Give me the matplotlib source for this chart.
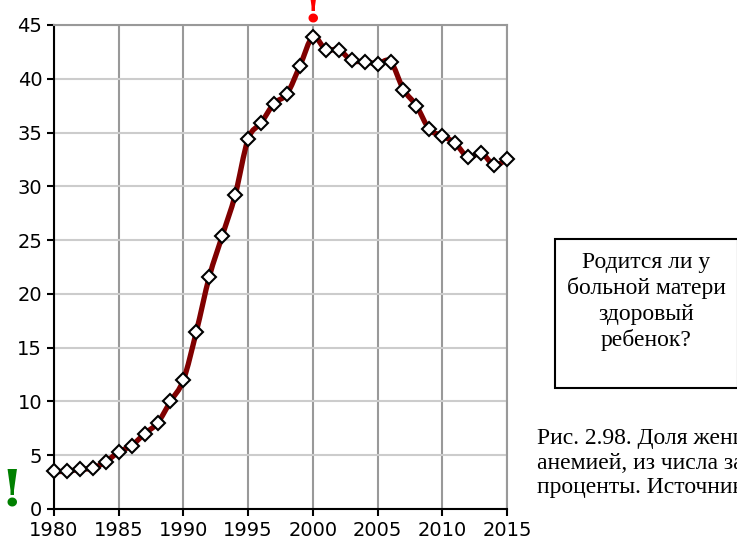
import numpy as np
import matplotlib.pyplot as plt
from matplotlib.path import Path
from matplotlib.patches import PathPatch, Rectangle

# data
years = list(range(1980, 2016))
share = [3.5, 3.5, 3.7, 3.8, 4.4, 5.3, 5.9, 7.0, 8.0, 10.0,
         12.0, 16.5, 21.6, 25.4, 29.2, 34.4, 35.9, 37.7, 38.6, 41.2,
         43.9, 42.7, 42.7, 41.7, 41.6, 41.4, 41.6, 39.0, 37.5, 35.3,
         34.7, 34.0, 32.7, 33.1, 32.0, 32.5]
x_ticks = [1980, 1985, 1990, 1995, 2000, 2005, 2010, 2015]
y_ticks = [0, 5, 10, 15, 20, 25, 30, 35, 40, 45]

box_lines = ['Родится ли у', 'больной матери', 'здоровый', 'ребенок?']
caption_lines = ['Рис. 2.98. Доля женщин, страдавших',
                 'анемией, из числа закончивших беременность,',
                 'проценты. Источник: Росстат']

W, H = 737, 544
fig = plt.figure(figsize=(W / 100, H / 100), dpi=100)


def px(x, y):
    # pixel position (from top-left) -> figure fraction
    return x / W, 1 - y / H


l, t = px(54, 25)
r, b = px(507, 509)
ax = fig.add_axes([l, b, r - l, t - b])

# smoothed line like Excel: bezier segments through the data points
pts = np.column_stack([years, share])
verts = [pts[0]]
codes = [Path.MOVETO]
n = len(pts)
for i in range(n - 1):
    p0 = pts[max(i - 1, 0)]
    p1 = pts[i]
    p2 = pts[i + 1]
    p3 = pts[min(i + 2, n - 1)]
    verts += [p1 + (p2 - p0) / 6, p2 - (p3 - p1) / 6, p2]
    codes += [Path.CURVE4] * 3
ax.add_patch(PathPatch(Path(verts, codes), facecolor='none',
                       edgecolor='#800000', lw=3.8, capstyle='round',
                       joinstyle='round', zorder=3))
ax.plot(years, share, ls='none', marker='D', ms=7.5, mfc='white',
        mec='black', mew=1.5, zorder=4, clip_on=False)

ax.set_xlim(1980, 2015)
ax.set_ylim(0, 45)
ax.set_xticks(x_ticks)
ax.set_yticks(y_ticks)
ax.xaxis.grid(True, color='#999999', lw=1.5)
ax.yaxis.grid(True, color='#cccccc', lw=1.5)
ax.set_axisbelow(True)
for s in ['top', 'right']:
    ax.spines[s].set_color('#999999')
    ax.spines[s].set_linewidth(1.5)
for s in ['left', 'bottom']:
    ax.spines[s].set_color('black')
    ax.spines[s].set_linewidth(1.5)
ax.tick_params(direction='out', length=5, width=1.5, color='black',
               labelsize=14, pad=3.5)

# exclamation marks (tapered serif glyph)
fig.text(*px(12, 505), '!', color='#008000', fontsize=37, fontweight='bold',
         family='DejaVu Serif', ha='center', va='baseline')
fig.text(*px(313, 21), '!', color='#ff0000', fontsize=37, fontweight='bold',
         family='DejaVu Serif', ha='center', va='baseline')

# text box on the right
bx0, by0 = px(555, 388)
bx1, by1 = px(738, 239)
fig.patches.append(Rectangle((bx0, by0), bx1 - bx0, by1 - by0,
                             transform=fig.transFigure, fill=False,
                             ec='black', lw=1.5))
for i, s in enumerate(box_lines):
    fig.text(*px(646, 268 + 26 * i), s, fontsize=17,
             family='Liberation Serif', ha='center', va='baseline')

for i, s in enumerate(caption_lines):
    fig.text(*px(537, 444 + 24.5 * i), s, fontsize=17,
             family='Liberation Serif', ha='left', va='baseline')

fig.savefig('out.png', dpi=100)
